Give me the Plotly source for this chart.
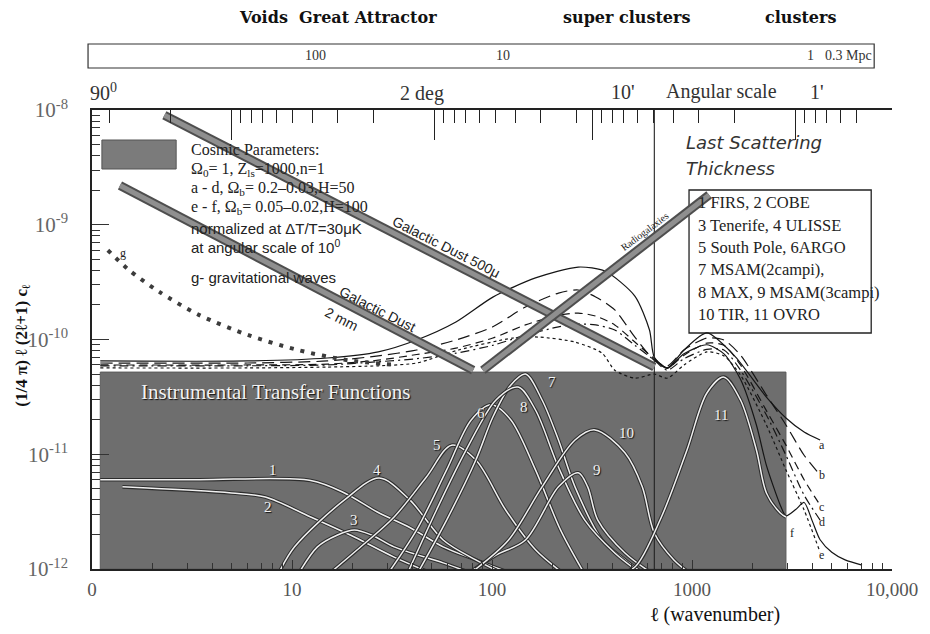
import math
import plotly.graph_objects as go

# ---------------- data ----------------
ELL_TICKS = [1, 10, 100, 1000, 10000]
ELL_TICK_TEXT = ["0", "10", "100", "1000", "10,000"]
CL_TICKS = [1e-12, 1e-11, 1e-10, 1e-9, 1e-8]
CL_TICK_TEXT = ["10<sup>-12</sup>", "10<sup>-11</sup>", "10<sup>-10</sup>",
                "10<sup>-9</sup>", "10<sup>-8</sup>"]

# angular scale along the top edge (degrees)
ANG_MAJOR_DEG = [10, 1, 10 / 60, 1 / 60]
ANG_MINOR_DEG = [40, 20, 9, 8, 7, 6, 5, 4, 3, 2,
                 0.9, 0.8, 0.7, 0.6, 0.5, 0.4, 0.3, 0.2,
                 9 / 60, 8 / 60, 7 / 60, 6 / 60, 5 / 60, 4 / 60, 3 / 60, 2 / 60,
                 0.9 / 60, 0.8 / 60, 0.7 / 60, 0.6 / 60, 0.5 / 60]
ANG_RANGE_DEG = [48.7, 0.00557]

# theoretical spectra a-f
ELL_A = [1.1, 6, 15, 27, 42, 66, 101, 165, 270, 367, 518, 613, 648, 752, 912,
         1187, 1620, 2355, 2950, 3635, 4370]
CL_A = [6.5e-11, 6.5e-11, 6.9e-11, 7.8e-11, 9.9e-11, 1.42e-10, 2.34e-10, 3.44e-10,
        4.28e-10, 3.95e-10, 2.39e-10, 1.21e-10, 7.0e-11, 5.65e-11, 8.1e-11,
        1.14e-10, 7.3e-11, 3.15e-11, 2.07e-11, 1.56e-11, 1.33e-11]

ELL_BCD = [1.1, 6, 15, 27, 42, 66, 101, 147, 215, 270, 330, 411, 518, 648, 752,
           912, 1187, 1445, 1748, 2355, 2950, 3635, 4370]
CL_B = [6.24e-11, 6.24e-11, 6.5e-11, 7.2e-11, 8.1e-11, 9.9e-11, 1.29e-10, 1.92e-10,
        2.54e-10, 2.7e-10, 2.35e-10, 1.81e-10, 1.05e-10, 6.6e-11, 5.87e-11, 8.1e-11,
        1.03e-10, 9.9e-11, 7.3e-11, 3.28e-11, 1.8e-11, 9.8e-12, 6.6e-12]
CL_C = [6.0e-11, 6.0e-11, 6.1e-11, 6.6e-11, 7.4e-11, 8.4e-11, 1.03e-10, 1.34e-10,
        1.63e-10, 1.7e-10, 1.6e-10, 1.34e-10, 9.5e-11, 6.8e-11, 5.65e-11, 7.3e-11,
        9.3e-11, 8.9e-11, 6.0e-11, 2.4e-11, 1.2e-11, 6.0e-12, 3.6e-12]
CL_D = [5.9e-11, 5.9e-11, 6.0e-11, 6.4e-11, 6.8e-11, 7.6e-11, 8.9e-11, 1.09e-10,
        1.29e-10, 1.36e-10, 1.34e-10, 1.21e-10, 8.9e-11, 6.6e-11, 5.4e-11, 6.8e-11,
        8.2e-11, 8.1e-11, 5.4e-11, 2.2e-11, 9.8e-12, 4.4e-12, 2.67e-12]

ELL_E = [1.1, 6, 15, 27, 42, 68, 127, 171, 260, 355, 411, 518, 648, 752, 912,
         1187, 1445, 1748, 2355, 2950, 3635, 4370]
CL_E = [5.65e-11, 5.65e-11, 5.75e-11, 5.9e-11, 6.24e-11, 8.1e-11, 1.03e-10, 1.05e-10,
        9.5e-11, 7.6e-11, 5.4e-11, 4.6e-11, 5.0e-11, 4.6e-11, 6.0e-11, 7.8e-11,
        7.2e-11, 4.9e-11, 1.8e-11, 7.3e-12, 3.27e-12, 1.4e-12]

ELL_F = [648, 752, 912, 1187, 1445, 1748, 2099, 2355, 2763, 2950, 3300, 3635, 4000,
         4370, 5000, 5830, 7080]
CL_F = [6.8e-11, 5.6e-11, 7.5e-11, 9.0e-11, 7.5e-11, 4.5e-11, 1.8e-11, 8e-12, 3.6e-12,
        2.9e-12, 3.3e-12, 3.8e-12, 2.6e-12, 1.8e-12, 1.4e-12, 1.2e-12, 1.08e-12]

# gravitational waves (g)
ELL_G = [1.2, 1.54, 2.17, 3.42, 6.06, 10.7, 19, 33.5]
CL_G = [6.0e-10, 4.0e-10, 2.6e-10, 1.64e-10, 1.09e-10, 8.1e-11, 6.6e-11, 6.0e-11]

# foreground bands
DUST500_ELL = [2.3, 648]
DUST500_CL = [9.0e-9, 5.75e-11]
DUST2MM_ELL = [1.38, 80.5]
DUST2MM_CL = [2.2e-9, 5.4e-11]
RADIO_ELL = [90, 1218]
RADIO_CL = [5.4e-11, 1.82e-9]

# last scattering multipole
LS_ELL = 648

# shaded region of instrumental transfer functions
BOX_ELL = [1.1, 2950]
BOX_CL = [1e-12, 5.2e-11]

# instrumental transfer functions 1-11
TF = {
    "1": ([1.1, 3.42, 12.4, 18.3, 26.7, 38.8, 57, 83, 130],
          [6.0e-12, 6.0e-12, 5.9e-12, 4.6e-12, 3.14e-12, 2.3e-12, 1.56e-12, 1.2e-12, 8.9e-13]),
    "2": ([1.42, 4.98, 7.35, 12.4, 20.5, 32.4, 52],
          [5.2e-12, 4.6e-12, 4.24e-12, 2.84e-12, 1.9e-12, 1.27e-12, 8.9e-13]),
    "3": ([10.7, 13.4, 16.9, 20.5, 25, 32.4, 57, 83],
          [8.9e-13, 1.56e-12, 1.98e-12, 2.19e-12, 1.98e-12, 1.56e-12, 1.13e-12, 8.9e-13]),
    "4": ([8.5, 10.3, 18.3, 27.3, 38.8, 57, 83, 117],
          [8.9e-13, 1.56e-12, 4.0e-12, 6.2e-12, 4.0e-12, 1.79e-12, 1.2e-12, 8.9e-13]),
    "5": ([15.1, 21.2, 32.4, 47, 62.8, 83, 117, 165, 232],
          [8.9e-13, 1.47e-12, 2.84e-12, 6.34e-12, 1.2e-11, 8.9e-12, 3.27e-12, 1.47e-12, 8.9e-13]),
    "6": ([29.9, 42, 59.3, 78.7, 98.9, 124, 165, 220, 292],
          [8.9e-13, 2.19e-12, 7.3e-12, 1.99e-11, 2.7e-11, 2.0e-11, 7.3e-12, 2.19e-12, 8.9e-13]),
    "7": ([42, 59.3, 83, 101, 124, 147, 178, 215, 260, 355, 462, 583],
          [8.9e-13, 2.67e-12, 8.9e-12, 2.11e-11, 4.0e-11, 5.0e-11, 2.97e-11, 1.33e-11,
           5.2e-12, 1.79e-12, 1.2e-12, 8.9e-13]),
    "8": ([37.5, 52.8, 74.3, 104.7, 135, 165, 215, 291, 411, 518],
          [8.9e-13, 3.27e-12, 1.09e-11, 2.97e-11, 3.85e-11, 2.43e-11, 7.7e-12, 2.67e-12,
           1.38e-12, 1.0e-12]),
    "9": ([74.3, 104.7, 147, 215, 270, 301, 338, 462, 648],
          [8.9e-13, 1.32e-12, 1.79e-12, 5.2e-12, 6.9e-12, 5.2e-12, 2.67e-12, 1.38e-12, 8.9e-13]),
    "10": ([83, 121, 178, 260, 327, 462, 564, 648, 812, 1000],
           [1.0e-12, 1.79e-12, 5.2e-12, 1.33e-11, 1.63e-11, 1.03e-11, 5.2e-12, 2.06e-12,
            1.2e-12, 8.9e-13]),
    "11": ([411, 518, 703, 944, 1187, 1445, 1748, 2099, 2355, 2763, 2950],
           [8.9e-13, 1.04e-12, 2.84e-12, 1.09e-11, 3.42e-11, 4.7e-11, 2.97e-11, 1.09e-11,
            4.6e-12, 3.08e-12, 2.84e-12]),
}

LEGEND_LINES = ["1 FIRS, 2 COBE", "3 Tenerife, 4 ULISSE", "5 South Pole, 6ARGO",
                "7 MSAM(2campi),", "8 MAX, 9 MSAM(3campi)", "10 TIR, 11 OVRO"]
PARAM_LINES = ["Cosmic Parameters:",
               "\u03a9<sub>0</sub>= 1, Z<sub>ls</sub>=1000,n=1",
               "a - d, \u03a9<sub>b</sub>= 0.2\u20130.03,H=50",
               "e - f, \u03a9<sub>b</sub>= 0.05\u20130.02,H=100"]
NOTE_LINES = ["normalized at \u0394T/T=30\u03bcK", "at angular scale of 10<sup>0</sup>"]
MPC_LABELS = ["100", "10", "1", "0.3 Mpc"]

# ---------------- layout geometry (pixels) ----------------
W_FIG, H_FIG = 930, 634
L, R, T, B = 92, 900, 110, 569
PW, PH = R - L, B - T


def px(x):
    return (x - L) / PW


def py(y):
    return (B - y) / PH


SERIF = "Liberation Serif"
SANS = "Liberation Sans"

fig = go.Figure()

# shaded transfer-function panel
fig.add_trace(go.Scatter(
    x=[BOX_ELL[0], BOX_ELL[1], BOX_ELL[1], BOX_ELL[0], BOX_ELL[0]],
    y=[BOX_CL[0], BOX_CL[0], BOX_CL[1], BOX_CL[1], BOX_CL[0]],
    mode="lines", fill="toself", fillcolor="#6e6e6e",
    line=dict(color="#5a5a5a", width=1), hoverinfo="skip"))

# theoretical spectra
spectra = [
    (ELL_A, CL_A, "solid"),
    (ELL_BCD, CL_B, "12px,6px"),
    (ELL_BCD, CL_C, "8px,5px"),
    (ELL_BCD, CL_D, "9px,4px,2px,4px"),
    (ELL_E, CL_E, "3px,3px"),
    (ELL_F, CL_F, "solid"),
]
for ell, cl, dash in spectra:
    fig.add_trace(go.Scatter(
        x=ell, y=cl, mode="lines",
        line=dict(color="#151515", width=1.2, dash=dash, shape="spline", smoothing=0.7),
        hoverinfo="skip"))

# gravitational waves
fig.add_trace(go.Scatter(
    x=ELL_G, y=CL_G, mode="lines",
    line=dict(color="#3c3c3c", width=4, dash="4px,7px", shape="spline", smoothing=0.8),
    hoverinfo="skip"))

# last scattering line
fig.add_trace(go.Scatter(
    x=[LS_ELL, LS_ELL], y=[CL_TICKS[0], CL_TICKS[-1]], mode="lines",
    line=dict(color="#222222", width=1.1), hoverinfo="skip"))

# instrumental transfer functions: dark edge, light core
for name, (ell, cl) in TF.items():
    fig.add_trace(go.Scatter(
        x=ell, y=cl, mode="lines",
        line=dict(color="#2c2c2c", width=3.6, shape="spline", smoothing=0.9),
        hoverinfo="skip"))
    fig.add_trace(go.Scatter(
        x=ell, y=cl, mode="lines",
        line=dict(color="#f0f0f0", width=1.5, shape="spline", smoothing=0.9),
        hoverinfo="skip"))

# foreground bands
for ell, cl in [(DUST500_ELL, DUST500_CL), (DUST2MM_ELL, DUST2MM_CL), (RADIO_ELL, RADIO_CL)]:
    fig.add_trace(go.Scatter(x=ell, y=cl, mode="lines",
                             line=dict(color="#4e4e4e", width=9), hoverinfo="skip"))
    fig.add_trace(go.Scatter(x=ell, y=cl, mode="lines",
                             line=dict(color="#8f8f8f", width=5), hoverinfo="skip"))

# carrier for the angular-scale axis on top
fig.add_trace(go.Scatter(x=ANG_MAJOR_DEG, y=[None] * len(ANG_MAJOR_DEG), xaxis="x2",
                         mode="markers", marker=dict(opacity=0), hoverinfo="skip"))

ell_minor = [k * 10.0 ** e for e in range(0, 4) for k in range(2, 10)]
cl_minor = [k * 10.0 ** e for e in range(-12, -8) for k in range(2, 10)]

fig.update_layout(
    width=W_FIG, height=H_FIG,
    margin=dict(l=L, r=W_FIG - R, t=T, b=H_FIG - B),
    paper_bgcolor="white", plot_bgcolor="white",
    showlegend=False,
    xaxis=dict(type="log", range=[0, 4], tickmode="array", tickvals=ELL_TICKS,
               ticktext=ELL_TICK_TEXT, ticks="inside", ticklen=9, tickcolor="#333",
               showline=True, linecolor="#222", linewidth=1.6, showgrid=False,
               zeroline=False, tickfont=dict(family=SERIF, size=19, color="#555"),
               ticklabelstandoff=2,
               minor=dict(tickmode="array", tickvals=ell_minor, ticks="inside",
                          ticklen=6, tickcolor="#333", showgrid=False)),
    xaxis2=dict(type="log", overlaying="x", side="top", anchor="y",
                range=[math.log10(ANG_RANGE_DEG[0]), math.log10(ANG_RANGE_DEG[1])],
                tickmode="array", tickvals=ANG_MAJOR_DEG, ticks="inside", ticklen=30,
                tickwidth=1.4, tickcolor="#222", showticklabels=False, showline=True,
                linecolor="#222", linewidth=1.6, showgrid=False, zeroline=False,
                minor=dict(tickmode="array", tickvals=ANG_MINOR_DEG, ticks="inside",
                           ticklen=13, tickwidth=1.3, tickcolor="#222", showgrid=False)),
    yaxis=dict(type="log", range=[-12, -8], tickmode="array", tickvals=CL_TICKS,
               ticktext=CL_TICK_TEXT, ticks="inside", ticklen=17, tickcolor="#333",
               showline=True, linecolor="#222", linewidth=1.6, showgrid=False,
               zeroline=False, tickfont=dict(family=SERIF, size=21, color="#666"),
               ticklabelstandoff=18,
               minor=dict(tickmode="array", tickvals=cl_minor, ticks="inside",
                          ticklen=8, tickcolor="#333", showgrid=False)),
)

shapes = [
    # Mpc scale strip
    dict(type="rect", xref="paper", yref="paper", x0=px(88), x1=px(882),
         y0=py(68), y1=py(44), line=dict(color="#333", width=1.2), fillcolor="white"),
    # small badge
    dict(type="rect", xref="paper", yref="paper", x0=px(102), x1=px(177),
         y0=py(169), y1=py(140), line=dict(color="#555", width=1), fillcolor="#7b7b7b",
         layer="below"),
    # experiment list frame
    dict(type="rect", xref="paper", yref="paper", x0=px(695), x1=px(879),
         y0=py(333), y1=py(190), line=dict(color="#222", width=1.3), fillcolor="white",
         layer="below"),
]
fig.update_layout(shapes=shapes)

ann = []


def note(text, x, y, size=13, family=SERIF, color="#111", xanchor="center",
         angle=0, **font_extra):
    ann.append(dict(text=text, x=px(x), y=py(y), xref="paper", yref="paper",
                    showarrow=False, xanchor=xanchor, yanchor="middle", textangle=angle,
                    font=dict(family=family, size=size, color=color, **font_extra)))


# headings above the plot
note("<b>Voids  Great Attractor</b>", 340, 18, size=16, family="DejaVu Serif")
note("<b>super clusters</b>", 632, 18, size=16, family="DejaVu Serif")
note("<b>clusters</b>", 808, 18, size=16, family="DejaVu Serif")

# Mpc scale labels
for lab, x in zip(MPC_LABELS, [318, 507, 818, 856]):
    note(lab, x, 56, size=14, color="#333")

# angular scale row
note("90<sup>0</sup>", 88, 92, size=20, color="#333", xanchor="left")
note("2 deg", 425, 94, size=20, color="#333")
note("10'", 628, 92, size=20, color="#333")
note("Angular scale", 728, 92, size=20, color="#333")
note("1'", 824, 92, size=20, color="#333")

# cosmological parameters
for i, line in enumerate(PARAM_LINES):
    note(line, 190, 150 + 19.3 * i, size=16, color="#222", xanchor="left")
for i, line in enumerate(NOTE_LINES):
    note(line, 190, 228 + 18.5 * i, size=15, family=SANS, color="#222", xanchor="left")
note("g- gravitational waves", 190, 277, size=15, family=SANS, color="#222", xanchor="left")
note("g", 123, 253, size=12, color="#222")

# foreground band labels
note("Galactic Dust 500\u03bc", 450, 247, size=14, family=SANS, color="#222", angle=27)
note("Galactic Dust", 380, 309, size=14, family=SANS, color="#222", angle=27)
note("2 mm", 344, 319, size=14, family=SANS, color="#222", angle=27)
note("Radiogalaxies", 650, 231, size=10, color="#222", angle=-37)

# last scattering
note("Last Scattering", 690, 142, size=18, family="DejaVu Sans", color="#333",
     xanchor="left", style="italic")
note("Thickness", 690, 168, size=18, family="DejaVu Sans", color="#333",
     xanchor="left", style="italic")

# experiment list
for i, line in enumerate(LEGEND_LINES):
    note(line, 702, 203 + 22.3 * i, size=16.5, color="#222", xanchor="left")

# transfer-function panel text
shadow = "1px 1px 1px #111"
note("Instrumental Transfer Functions", 277, 392, size=21, color="#f2f2f2",
     shadow=shadow)
tf_label_pos = {"1": (275, 470), "2": (270, 507), "3": (357, 520), "4": (380, 470),
                "5": (440, 445), "6": (485, 413), "7": (557, 382), "8": (528, 407),
                "9": (602, 470), "10": (632, 433), "11": (727, 415)}
for lab, (x, y) in tf_label_pos.items():
    note(lab, x, y, size=15, color="#f2f2f2", shadow=shadow)

# spectrum letters
for lab, (x, y) in {"a": (829, 445), "b": (829, 475), "c": (829, 507),
                    "d": (829, 522), "e": (829, 555), "f": (799, 533)}.items():
    note(lab, x, y, size=12, color="#222")

# axis titles
note("<b>\u2113</b> (wavenumber)", 722, 614, size=20, color="#111")
ann.append(dict(text="<b>(1/4 \u03c0) \u2113 (2\u2113+1) c<sub>\u2113</sub></b>",
                x=px(22), y=py(345), xref="paper", yref="paper", showarrow=False,
                textangle=-90, xanchor="center", yanchor="middle",
                font=dict(family=SERIF, size=17, color="#111")))

fig.update_layout(annotations=ann)

fig.write_html("out.html")
